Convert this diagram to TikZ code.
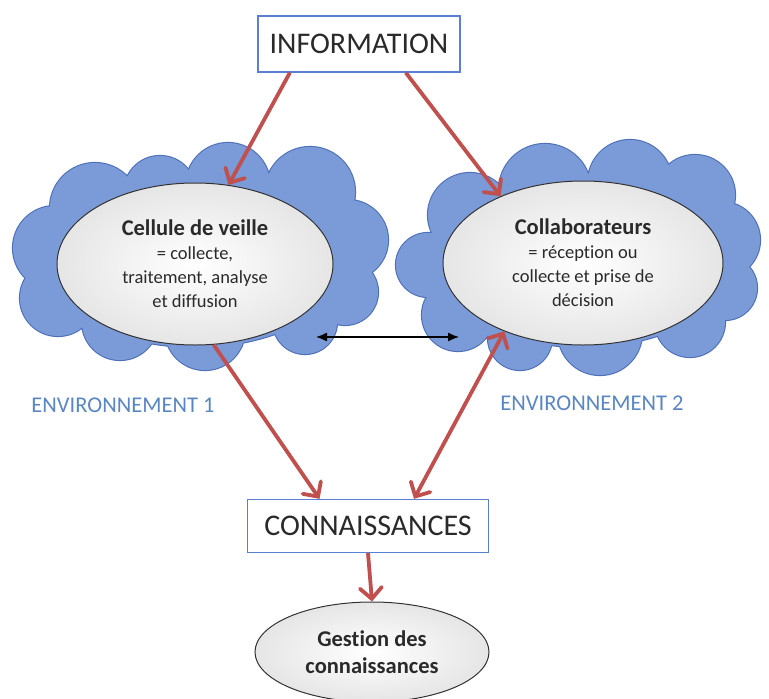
\documentclass[tikz,border=0pt]{standalone}
\usepackage{fontspec}
\setmainfont{Carlito}[Ligatures={NoCommon}]
\usetikzlibrary{shapes.geometric,arrows.meta,calc}
\definecolor{redarr}{HTML}{C0504D}
\definecolor{boxblue}{HTML}{5B7FD5}
\definecolor{cloudfill}{HTML}{7B9AD8}
\definecolor{cloudline}{HTML}{4E70B8}
\definecolor{envtext}{HTML}{5A86C2}
\definecolor{txt}{HTML}{2A2A2A}
\tikzset{
  titlebox/.style={draw=boxblue, line width=1.3pt, fill=white, rectangle, inner sep=0pt, text=txt, font=\fontsize{30}{32}\selectfont},
  oval/.style={ellipse, draw=black!80, line width=1pt, inner color=white, outer color=gray!20, inner sep=0pt, text=txt, align=center, font=\fontsize{18.5}{24}\selectfont},
  redarrow/.style={draw=redarr, line width=3.8pt, -{Straight Barb[length=11pt,width=22pt,line cap=round]}},
  redboth/.style={draw=redarr, line width=3.8pt, {Straight Barb[length=11pt,width=22pt,line cap=round]}-{Straight Barb[length=11pt,width=22pt,line cap=round]}},
  blkboth/.style={draw=black, line width=1.3pt, {Latex[length=11pt,width=9pt]}-{Latex[length=11pt,width=9pt]}},
  envlabel/.style={text=envtext, font=\fontsize{22.5}{24}\selectfont},
  bubbleline/.style={draw=cloudline, line width=2.2pt},
  bubblefill/.style={fill=cloudfill},
}
\begin{document}
\begin{tikzpicture}[x=1pt,y=-1pt]
\useasboundingbox (0,0) rectangle (769,699);
\clip (0,0) rectangle (769,699);
\fill[white] (0,0) rectangle (769,699);

% left cloud
\def\leftcloud{(95,208) circle[radius=45pt] (160,192) circle[radius=36pt] (228,185) circle[radius=42pt] (310,192) circle[radius=45pt] (348,240) circle[radius=40pt] (345,292) circle[radius=33pt] (305,322) circle[radius=32pt] (205,330) circle[radius=40pt] (120,322) circle[radius=38pt] (58,298) circle[radius=38pt] (55,248) circle[radius=42pt] (195,262) ellipse[x radius=150pt, y radius=85pt]}
\path[bubbleline] \leftcloud;
\path[bubblefill] \leftcloud;
% right cloud
\def\rightcloud{(470,215) circle[radius=42pt] (545,190) circle[radius=46pt] (630,182) circle[radius=42pt] (695,195) circle[radius=40pt] (722,240) circle[radius=38pt] (725,288) circle[radius=32pt] (690,322) circle[radius=35pt] (600,333) circle[radius=42pt] (520,338) circle[radius=32pt] (458,315) circle[radius=36pt] (428,265) circle[radius=32pt] (583,262) ellipse[x radius=150pt, y radius=85pt]}
\path[bubbleline] \rightcloud;
\path[bubblefill] \rightcloud;

% nodes
\node[titlebox, minimum width=202pt, minimum height=56pt] (info) at (359,44) {INFORMATION};
\node[oval, minimum width=276pt, minimum height=162pt] (cell) at (195,264)
  {{\bfseries\fontsize{22.5}{24}\selectfont Cellule de veille}\\= collecte,\\traitement, analyse\\et diffusion};
\node[oval, minimum width=280pt, minimum height=164pt] (coll) at (583,263)
  {{\bfseries\fontsize{22.5}{24}\selectfont Collaborateurs}\\= réception ou\\collecte et prise de\\décision};
\node[titlebox, minimum width=241pt, minimum height=53pt] (conn) at (368,526) {CONNAISSANCES};
\node[oval, minimum width=234pt, minimum height=100pt, font=\bfseries\fontsize{22.5}{27}\selectfont] (gest) at (372,652) {Gestion des\\connaissances};

\node[envlabel] (env1) at (123,405) {ENVIRONNEMENT 1};
\node[envlabel] (env2) at (592,403) {ENVIRONNEMENT 2};

% connectors
\draw[redarrow] ($(info.south west)!0.16!(info.south east)$) -- (cell.67);
\draw[redarrow] ($(info.south west)!0.73!(info.south east)$) -- (coll.141);
\draw[redarrow] (cell.283) -- ($(conn.north west)!0.30!(conn.north east)$);
\draw[redboth] ($(conn.north west)!0.69!(conn.north east)$) -- (coll.221);
\draw[redarrow] (conn.south) -- (gest.north);
\coordinate (bl) at (316,337);
\coordinate (br) at (459,337);
\draw[blkboth] (bl) -- (br);
\end{tikzpicture}
\end{document}
